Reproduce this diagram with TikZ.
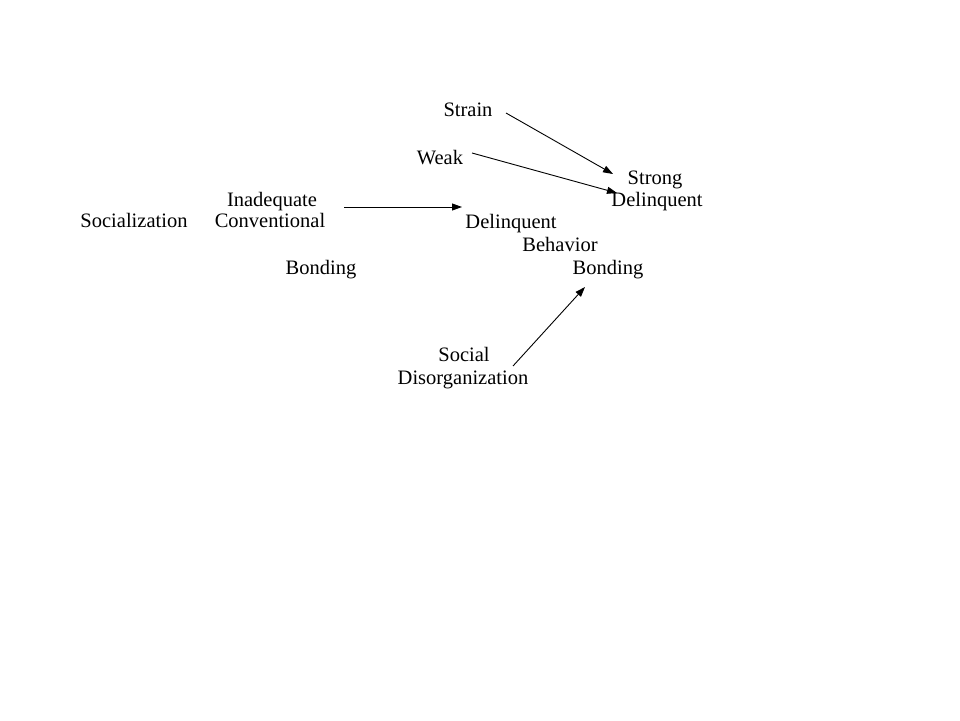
\documentclass[tikz,border=0pt]{standalone}
\usepackage{fontspec}
\setmainfont{Liberation Serif}
\usetikzlibrary{arrows.meta}
\begin{document}
\begin{tikzpicture}[x=1pt,y=-1pt,
  lbl/.style={anchor=base,inner sep=0pt,font=\fontsize{20.5}{23}\selectfont},
  arr/.style={line width=0.9pt,-{Triangle[length=10pt,width=7pt]}}]
\useasboundingbox[fill=white] (0,0) rectangle (960,720);
\node[lbl] (strain) at (468,116) {Strain};
\node[lbl] (weak) at (440,164) {Weak};
\node[lbl] (strong) at (655,184) {Strong};
\node[lbl] (delinqR) at (657,206) {Delinquent};
\node[lbl] (inadequate) at (272,206) {Inadequate};
\node[lbl] (socialization) at (134,227) {Socialization};
\node[lbl] (conventional) at (270,227) {Conventional};
\node[lbl] (delinqM) at (511,228) {Delinquent};
\node[lbl] (behavior) at (560,251) {Behavior};
\node[lbl] (bondingL) at (321,274) {Bonding};
\node[lbl] (bondingR) at (608,274) {Bonding};
\node[lbl] (social) at (464,361) {Social};
\node[lbl] (disorg) at (463,384) {Disorganization};
\coordinate (a1s) at (344,207);
\coordinate (a1e) at (462,207);
\coordinate (a2s) at (506,113);
\coordinate (a2e) at (613,174);
\coordinate (a3s) at (472,153);
\coordinate (a3e) at (617,193);
\coordinate (a4s) at (513,366);
\coordinate (a4e) at (585,287);
\draw[arr] (a1s) -- (a1e);
\draw[arr] (a2s) -- (a2e);
\draw[arr] (a3s) -- (a3e);
\draw[arr] (a4s) -- (a4e);
\end{tikzpicture}
\end{document}
